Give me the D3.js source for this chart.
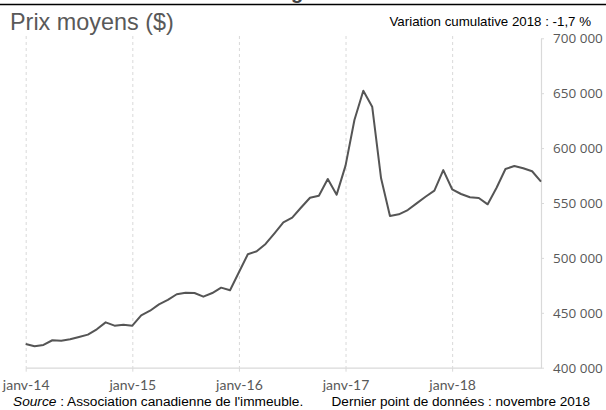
<!DOCTYPE html>
<html><head><meta charset="utf-8">
<script src="https://cdn.jsdelivr.net/npm/d3@7"></script>
<style>
html,body{margin:0;padding:0;background:#fff;}
svg{display:block;}
</style></head>
<body>
<script>
// Data: monthly average prices, janv-2014 .. nov-2018
const months = d3.range(0, 59); // month index from janv-14
const prices = [
  421600, 419500, 420700, 425000, 424600, 425900, 428000, 430100, 435000, 441300, 438300, 439200,
  438300, 447700, 451900, 457700, 461700, 466900, 468300, 468000, 464700, 468000, 472900, 470500,
  486900, 503300, 506000, 512700, 522400, 532400, 536600, 545900, 554800, 556600, 571900, 557600,
  584000, 625600, 652300, 637700, 572500, 538200, 539700, 543600, 549700, 555700, 561200, 580000,
  562500, 558200, 555200, 554600, 548800, 563900, 581000, 583700, 581600, 578900, 569500
];
const xTickMonths = [0, 12, 24, 36, 48];
const xTickLabels = ["janv-14", "janv-15", "janv-16", "janv-17", "janv-18"];
const yTicks = [400000, 450000, 500000, 550000, 600000, 650000, 700000];
const titleTop = "Prix moyens ($)";
const note = "Variation cumulative 2018 : -1,7 %";
const sourceLabel = "Source";
const sourceText = " : Association canadienne de l'immeuble.";
const lastPoint = "Dernier point de données : novembre 2018";

const W = 606, H = 410;
const svg = d3.select("body").append("svg").attr("width", W).attr("height", H);

const x = d3.scaleLinear().domain([0, 58]).range([25.7, 541]);
const y = d3.scaleLinear().domain([400000, 700000]).range([367.7, 38.3]);

const gray = "#595959", light = "#d9d9d9";

// top rule + cut-off title glyph (title lies above the visible area)
svg.append("text").attr("x", 291).attr("y", -1)
  .style("font", "bold 20px 'Liberation Sans', Arial, sans-serif").attr("fill", "#404040").text("g");
svg.append("line").attr("x1", 0).attr("x2", W).attr("y1", 4.5).attr("y2", 4.5)
  .attr("stroke", "#000").attr("stroke-width", 1.5);

// gridlines (dashed vertical)
svg.append("g").selectAll("line").data(xTickMonths).join("line")
  .attr("x1", d => x(d) + 0.5).attr("x2", d => x(d) + 0.5)
  .attr("y1", 36).attr("y2", y(400000))
  .attr("stroke", light).attr("stroke-width", 1).attr("stroke-dasharray", "3,3");

// x axis
const xAxis = d3.axisBottom(x).tickValues(xTickMonths).tickSize(4)
  .tickFormat((d, i) => xTickLabels[i]).tickSizeOuter(0);
const gx = svg.append("g").attr("transform", `translate(0,${y(400000)})`).call(xAxis);
gx.select(".domain").attr("stroke", light).attr("stroke-width", 1.2);
gx.selectAll(".tick line").attr("stroke", light);
gx.selectAll(".tick text").attr("fill", gray).attr("dy", 0).attr("y", 22)
  .style("font", "14px Lato, sans-serif");

// y axis (right)
const yAxis = d3.axisRight(y).tickValues(yTicks).tickSize(3).tickSizeOuter(0)
  .tickFormat(d => d3.format(",")(d).replace(/,/g, " "));
const gy = svg.append("g").attr("transform", `translate(${x(58)},0)`).call(yAxis);
gy.select(".domain").attr("stroke", light).attr("stroke-width", 1.2);
gy.selectAll(".tick line").attr("stroke", light);
gy.selectAll(".tick text").attr("fill", gray).attr("x", 12).attr("dy", "0.32em")
  .style("font", "13.5px 'Open Sans', sans-serif");

// line
svg.append("path").datum(months)
  .attr("fill", "none").attr("stroke", "#555555").attr("stroke-width", 2)
  .attr("stroke-linejoin", "round")
  .attr("d", d3.line().x(d => x(d)).y(d => y(prices[d])));

// texts
svg.append("text").attr("x", 10).attr("y", 30).attr("fill", gray)
  .style("font", "23.4px 'Liberation Sans', Arial, sans-serif").text(titleTop);
svg.append("text").attr("x", 591).attr("y", 26).attr("text-anchor", "end").attr("fill", "#000")
  .style("font", "13.3px 'Liberation Sans', Arial, sans-serif").text(note);
const src = svg.append("text").attr("x", 13).attr("y", 406).attr("fill", "#000")
  .style("font", "13.7px 'Liberation Sans', Arial, sans-serif");
src.append("tspan").style("font-style", "italic").text(sourceLabel);
src.append("tspan").text(sourceText);
svg.append("text").attr("x", 590).attr("y", 406).attr("text-anchor", "end").attr("fill", "#000")
  .style("font", "13.6px 'Liberation Sans', Arial, sans-serif").text(lastPoint);
</script>
</body></html>
